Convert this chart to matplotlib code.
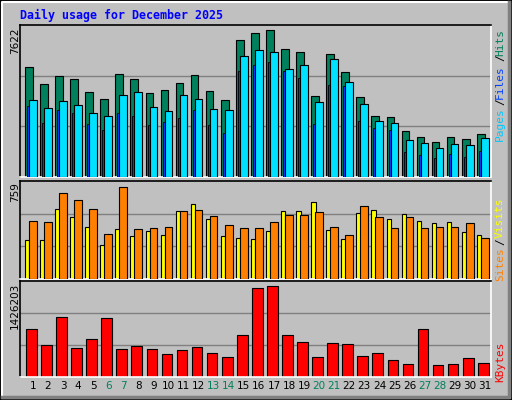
import matplotlib
matplotlib.use("Agg")
import matplotlib.pyplot as plt
from matplotlib.patches import Rectangle
from matplotlib.lines import Line2D

days = list(range(1, 32))
weekend = [6, 7, 13, 14, 20, 21, 27, 28]
hits = [5533,4680,5081,4931,4279,3928,5182,4931,4229,4379,4730,5132,4329,3878,6887,7238,7388,6435,6285,4078,6185,5282,4028,3076,3025,2323,2023,1772,2023,1922,2173]
files = [3878,3477,3828,3627,3226,3076,4129,4279,3527,3326,4129,3928,3427,3376,6084,6385,6285,5432,5633,3778,5934,4780,3677,2825,2725,1872,1722,1471,1672,1621,1972]
pages = [3577,2725,3376,3226,2674,2374,3226,3076,2624,2775,2975,3376,2624,2223,5332,5633,5783,5332,4981,2674,4630,4580,2825,2474,2374,1270,1120,969,1170,1020,1320]
visits = [312,312,557,494,415,273,399,344,383,352,541,596,478,344,328,320,383,541,541,612,391,320,525,549,478,517,462,446,454,376,352]
sites = [462,454,683,628,557,360,730,399,407,415,541,549,502,431,407,407,454,509,509,533,415,352,580,494,407,494,407,415,415,446,328]
kbytes = [730443,491931,909327,432303,581373,894420,417396,477024,417396,342861,402489,462117,357768,298140,640995,1341630,1371444,640995,536652,298140,521745,506838,313047,357768,253419,193791,730443,178884,193791,283233,208698]
max_hits, max_sites, max_kb = 7622, 759, 1426203

W, H = 512, 400
BG = "#C0C0C0"
fig = plt.figure(figsize=(W/100, H/100), dpi=100, facecolor=BG)
mono = "DejaVu Sans Mono"

def fx(x): return x / W
def fy(y): return 1 - y / H

fig.add_artist(Rectangle((0, 0), 1, 1, transform=fig.transFigure, fill=False, ec="black", lw=2))
fig.add_artist(Line2D([fx(2), fx(2), fx(509)], [fy(397), fy(2), fy(2)], transform=fig.transFigure, color="white", lw=1.5))
fig.add_artist(Line2D([fx(2), fx(509), fx(509)], [fy(397), fy(397), fy(2)], transform=fig.transFigure, color="#808080", lw=2.5))

def panel(top, bot):
    ax = fig.add_axes([fx(20), fy(bot), fx(491) - fx(20), fy(top) - fy(bot)])
    ax.set_facecolor(BG)
    ax.set_xlim(0, 31.27)
    ax.set_xticks([]); ax.set_yticks([])
    for s in ["left", "top"]:
        ax.spines[s].set_color("black")
    for s in ["right", "bottom"]:
        ax.spines[s].set_color("white")
    for sp in ax.spines.values():
        sp.set_linewidth(1.2)
    return ax

EC = "black"
ax1 = panel(25, 177)
ax1.set_ylim(0, max_hits)
for g in (1/3, 2/3):
    ax1.axhline(max_hits * g, color="#808080", lw=1, zorder=0)
x0 = [d - 1 for d in days]
ax1.bar([x + 0.333 for x in x0], hits, width=0.51, align="edge", color="#00805C", ec=EC, lw=0.8, zorder=2)
ax1.bar([x + 0.467 for x in x0], pages, width=0.155, align="edge", color="#0040FF", ec=EC, lw=0.6, zorder=3)
ax1.bar([x + 0.6 for x in x0], files, width=0.51, align="edge", color="#00E0FF", ec=EC, lw=0.8, zorder=4)

ax2 = panel(181, 279)
ax2.set_ylim(0, max_sites * 1.03)
for g in (1/3, 2/3):
    ax2.axhline(max_sites * 1.03 * g, color="#808080", lw=1, zorder=0)
ax2.bar([x + 0.333 for x in x0], visits, width=0.29, align="edge", color="#FFFF00", ec=EC, lw=0.8, zorder=2)
ax2.bar([x + 0.6 for x in x0], sites, width=0.51, align="edge", color="#FF8000", ec=EC, lw=0.8, zorder=3)

ax3 = panel(281, 377)
ax3.set_ylim(0, max_kb * 1.02)
for g in (1/3, 2/3):
    ax3.axhline(max_kb * 1.02 * g, color="#808080", lw=1, zorder=0)
ax3.bar([x + 0.4 for x in x0], kbytes, width=0.71, align="edge", color="#FF0000", ec=EC, lw=0.8, zorder=2)
for d, x in zip(days, x0):
    ax3.text(x + 0.86, -0.04, str(d), transform=ax3.get_xaxis_transform(), ha="center", va="top",
             fontsize=7.5, color="#00805C" if d in weekend else "black", family="DejaVu Sans")

fig.text(fx(20), fy(15), "Daily usage for December 2025", color="#0000FF", family=mono,
         weight="bold", fontsize=8.4, va="center", ha="left")

for txt, y in ((str(max_hits), 28), (str(max_sites), 182), (str(max_kb), 283)):
    fig.text(fx(15), fy(y), txt, rotation=90, ha="center", va="top", fontsize=7.5, family="DejaVu Sans")

def rlab(txt, ytop, color):
    fig.text(fx(500), fy(ytop), txt, rotation=90, ha="center", va="top",
             fontsize=8, family=mono, color=color)
rlab("Pages", 107, "#00C8FF"); rlab("/", 98, "#000000"); rlab("Files", 65, "#0040FF")
rlab("/", 54, "#000000"); rlab("Hits", 29, "#00805C")
rlab("Sites", 247, "#FF8000"); rlab("/", 238, "#000000"); rlab("Visits", 198, "#FFFF00")
rlab("KBytes", 341, "#FF0000")

fig.savefig("out.png", dpi=100, facecolor=BG)
